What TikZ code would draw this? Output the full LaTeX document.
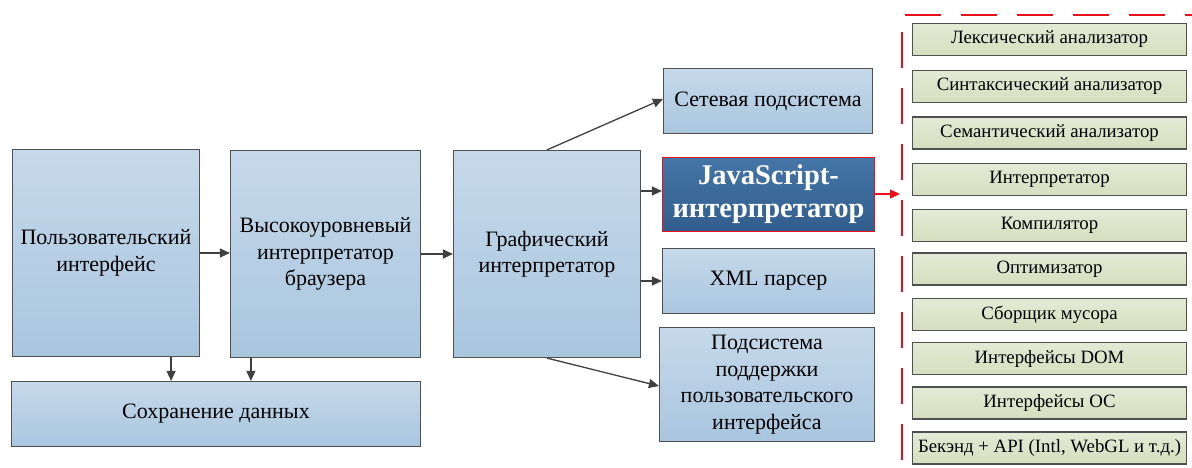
\documentclass[tikz,border=0pt]{standalone}
\usepackage{fontspec}
\setmainfont{Liberation Serif}
\usetikzlibrary{arrows.meta}

\definecolor{bluetop}{HTML}{C6D9EA}
\definecolor{bluebot}{HTML}{A9C6DF}
\definecolor{jstop}{HTML}{4476A7}
\definecolor{jsbot}{HTML}{315D8C}
\definecolor{greentop}{HTML}{E4EAD5}
\definecolor{greenbot}{HTML}{D6DEBF}
\definecolor{edge}{HTML}{505050}
\definecolor{arrowgray}{HTML}{404040}
\definecolor{markred}{HTML}{E8101A}

\tikzset{
  blk/.style={draw=edge, line width=1.2pt, top color=bluetop, bottom color=bluebot,
    align=center, inner sep=2pt, font=\fontsize{22}{26.5}\selectfont},
  jsblk/.style={draw=markred, line width=1.2pt, top color=jstop, bottom color=jsbot,
    align=center, inner sep=2pt, text=white, font=\fontsize{28.5}{33}\selectfont\bfseries},
  part/.style={draw=edge, line width=1.2pt, top color=greentop, bottom color=greenbot,
    align=center, inner sep=1pt, minimum width=274pt, minimum height=32pt,
    font=\fontsize{18.8}{20}\selectfont},
  arr/.style={draw=arrowgray, line width=1.3pt, -{Triangle[length=10pt,width=9pt]}},
  redarr/.style={draw=markred, line width=1.3pt, -{Triangle[length=10pt,width=9pt]}},
  reddash/.style={draw=markred, line width=2pt, dash pattern=on 36pt off 20pt},
}

\begin{document}
\begin{tikzpicture}[x=1pt,y=-1pt]
\useasboundingbox (0,0) rectangle (1192,468);

% main blocks
\node[blk, minimum width=187pt, minimum height=207pt] (ui) at (106,253)
  {Пользовательский\\интерфейс};
\node[blk, minimum width=190pt, minimum height=207pt] (hl) at (325.5,254)
  {Высокоуровневый\\интерпретатор\\браузера};
\node[blk, minimum width=409pt, minimum height=65pt] (save) at (216,414)
  {Сохранение данных};
\node[blk, minimum width=187pt, minimum height=207pt] (gr) at (547,254)
  {Графический\\интерпретатор};
\node[blk, minimum width=209pt, minimum height=65pt] (net) at (768,101)
  {Сетевая подсистема};
\node[jsblk, minimum width=212pt, minimum height=74pt] (js) at (768.5,194.5)
  {JavaScript-\\интерпретатор};
\node[blk, minimum width=212pt, minimum height=65pt] (xml) at (768.5,281)
  {XML парсер};
\node[blk, minimum width=215pt, minimum height=114pt] (ui2) at (767,384.5)
  {Подсистема\\поддержки\\пользовательского\\интерфейса};

% JavaScript engine parts
\node[part] (p1) at (1049.5,39.5) {Лексический анализатор};
\node[part] (p2) at (1049.5,86.5) {Синтаксический анализатор};
\node[part] (p3) at (1049.5,133) {Семантический анализатор};
\node[part] (p4) at (1049.5,179.5) {Интерпретатор};
\node[part] (p5) at (1049.5,225.5) {Компилятор};
\node[part] (p6) at (1049.5,269) {Оптимизатор};
\node[part] (p7) at (1049.5,314.5) {Сборщик мусора};
\node[part] (p8) at (1049.5,358.5) {Интерфейсы DOM};
\node[part] (p9) at (1049.5,403) {Интерфейсы ОС};
\node[part] (p10) at (1049.5,448) {Бекэнд + API (Intl, WebGL и т.д.)};

% dashed frame around the engine parts
\coordinate (ftl) at (905,15);
\coordinate (ftr) at (1192,15);
\coordinate (fvt) at (902,32);
\coordinate (fvb) at (902,464);
\draw[reddash] (ftl) -- (ftr);
\draw[reddash] (fvt) -- (fvb);

% connectors
\draw[arr] (ui.east) -- (ui.east -| hl.west);
\draw[arr] (hl.east) -- (hl.east -| gr.west);
\draw[arr] ([xshift=-29pt]ui.south east) -- ([xshift=-29pt]ui.south east |- save.north);
\draw[arr] ([xshift=21pt]hl.south west) -- ([xshift=21pt]hl.south west |- save.north);
\draw[arr] (gr.north) -- ([yshift=2pt]net.west);
\draw[arr] ([yshift=3.5pt]js.west -| gr.east) -- ([yshift=3.5pt]js.west);
\draw[arr] (xml.west -| gr.east) -- (xml.west);
\draw[arr] (gr.south) -- ([yshift=-1.5pt]ui2.west);
\coordinate (jsout) at (900,194);
\draw[redarr] (js.east |- jsout) -- (jsout);
\end{tikzpicture}
\end{document}
